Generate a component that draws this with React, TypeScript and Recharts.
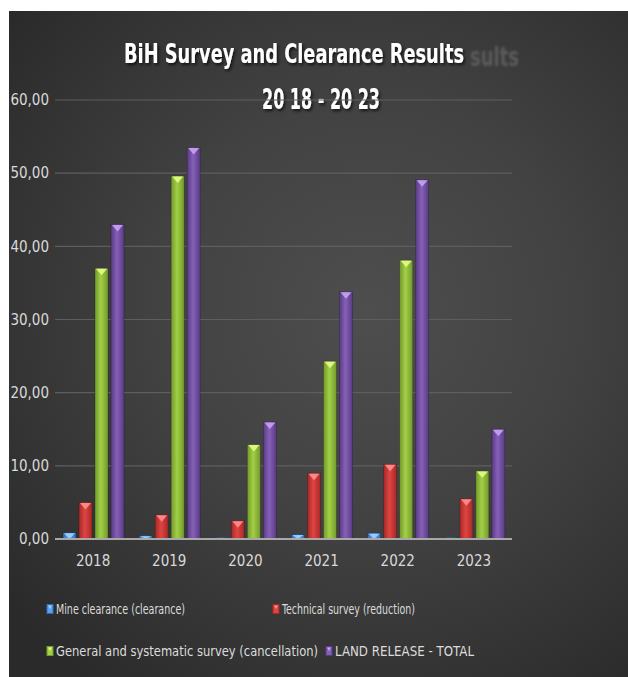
import React from 'react';
import { BarChart, Bar, XAxis, YAxis, CartesianGrid, Legend } from 'recharts';

const years = ['2018', '2019', '2020', '2021', '2022', '2023'];
const mineClearance = [0.85, 0.45, 0.2, 0.6, 0.8, 0.2];
const technicalSurvey = [5.0, 3.3, 2.5, 9.0, 10.2, 5.5];
const generalSurvey = [37.0, 49.6, 12.9, 24.3, 38.1, 9.3];
const landRelease = [43.0, 53.5, 16.0, 33.8, 49.1, 15.0];
const yTicks = [0, 10, 20, 30, 40, 50, 60];

const seriesNames = [
  'Mine clearance (clearance)',
  'Technical survey (reduction)',
  'General and systematic survey (cancellation)',
  'LAND RELEASE  - TOTAL',
];

const data = years.map((year, i) => ({
  year,
  mine: mineClearance[i],
  tech: technicalSurvey[i],
  general: generalSurvey[i],
  total: landRelease[i],
}));

const W = 619;
const H = 666;
const font = '"Liberation Sans Narrow", "DejaVu Sans Condensed", "Open Sans", sans-serif';

// edge, centre, top triangle
const palette = {
  mine: ['#2f6db8', '#5aa2ee', '#9fd0ff'],
  tech: ['#a82826', '#de4543', '#ff8f8f'],
  general: ['#739a2c', '#a2cf47', '#e4fb8a'],
  total: ['#5b3a86', '#8461b6', '#c9a2f2'],
};

const makeShape = (key: keyof typeof palette) => (props: any) => {
  const { x, y, width, height } = props;
  if (!height || height <= 0) return null;
  const tri = Math.min(7, height);
  return (
    <g>
      <rect x={x} y={y} width={width} height={height} fill={`url(#grad-${key})`} />
      <rect x={x} y={y} width={width} height={height} fill="none" stroke="rgba(0,0,0,0.25)" strokeWidth={0.8} />
      <polygon
        points={`${x + 1},${y + 0.5} ${x + width - 1},${y + 0.5} ${x + width / 2},${y + tri}`}
        fill={palette[key][2]}
        opacity={0.9}
      />
    </g>
  );
};

// legend layout: [x, y] of marker in chart coords, per series
const legendPos = [
  [38, 598],
  [264, 598],
  [38, 640],
  [317, 640],
];
const legendTextLen = [129, 133, 262, 139];
const legendKeys: (keyof typeof palette)[] = ['mine', 'tech', 'general', 'total'];

const renderLegend = (props: any) => {
  const payload = props.payload || [];
  return (
    <svg width={W} height={H} style={{ position: 'absolute', left: 0, top: 0, pointerEvents: 'none' }}>
      {payload.map((entry: any) => {
        const i = seriesNames.indexOf(entry.value);
        if (i < 0) return null;
        const [lx, ly] = legendPos[i];
        const key = legendKeys[i];
        return (
          <g key={entry.value}>
            <rect x={lx} y={ly - 4.5} width={6} height={9} fill={palette[key][1]} stroke={palette[key][0]} strokeWidth={1} />
            <polygon points={`${lx + 1},${ly - 3.5} ${lx + 5},${ly - 3.5} ${lx + 3},${ly}`} fill={palette[key][2]} />
            <text
              x={lx + 9}
              y={ly + 5}
              fill="#dcdcdc"
              fontSize={14.5}
              fontFamily={font}
              textLength={legendTextLen[i]}
              lengthAdjust="spacingAndGlyphs"
            >
              {entry.value}
            </text>
          </g>
        );
      })}
    </svg>
  );
};

const title1 = 'BiH Survey and Clearance Results';
const title2 = '20 18 - 20 23';
const ghostTail = 'sults';

export default function App() {
  return (
    <div style={{ position: 'absolute', left: 0, top: 0, width: 628, height: 677, background: '#ffffff' }}>
      <div
        style={{
          position: 'absolute',
          left: 9,
          top: 11,
          width: W,
          height: H,
          background:
            'radial-gradient(ellipse 75% 70% at 58% 45%, #4e4e4e 0%, #424242 45%, #333333 80%, #2a2a2a 100%)',
        }}
      >
        <svg width={W} height={120} style={{ position: 'absolute', left: 0, top: 0, pointerEvents: 'none' }}>
          <defs>
            <filter id="tshadow" x="-10%" y="-30%" width="120%" height="160%">
              <feDropShadow dx="1.5" dy="2" stdDeviation="1.5" floodColor="#000" floodOpacity="0.7" />
            </filter>
            <filter id="ghost">
              <feGaussianBlur stdDeviation="0.8" />
            </filter>
          </defs>
          <text
            x={461}
            y={55}
            fill="#5a5a5a"
            fontSize={27}
            fontWeight="bold"
            fontFamily={font}
            textLength={49}
            lengthAdjust="spacingAndGlyphs"
            filter="url(#ghost)"
          >
            {ghostTail}
          </text>
          <text
            x={115}
            y={52}
            fill="#ffffff"
            fontSize={27}
            fontWeight="bold"
            fontFamily={font}
            textLength={340}
            lengthAdjust="spacingAndGlyphs"
            filter="url(#tshadow)"
          >
            {title1}
          </text>
          <text
            x={253}
            y={98}
            fill="#ffffff"
            fontSize={28}
            fontWeight="bold"
            fontFamily={font}
            textLength={118}
            lengthAdjust="spacingAndGlyphs"
            filter="url(#tshadow)"
          >
            {title2}
          </text>
        </svg>
        <BarChart
          width={W}
          height={H}
          data={data}
          margin={{ top: 89, right: 116, left: 0, bottom: 107 }}
          barSize={13}
          barGap={3}
          style={{ position: 'absolute', left: 0, top: 0 }}
        >
          <defs>
            {legendKeys.map((k) => (
              <linearGradient key={k} id={`grad-${k}`} x1="0" y1="0" x2="1" y2="0">
                <stop offset="0%" stopColor={palette[k][0]} />
                <stop offset="45%" stopColor={palette[k][1]} />
                <stop offset="100%" stopColor={palette[k][0]} />
              </linearGradient>
            ))}
          </defs>
          <CartesianGrid vertical={false} stroke="#5e5e5e" strokeWidth={1.2} />
          <XAxis
            dataKey="year"
            axisLine={{ stroke: '#a8a8a8', strokeWidth: 2 }}
            tickLine={false}
            tickMargin={10}
            height={31}
            tick={{ fill: '#d9d9d9', fontSize: 15, fontFamily: font }}
          />
          <YAxis
            width={46}
            domain={[0, 60]}
            ticks={yTicks}
            axisLine={false}
            tickLine={false}
            tickMargin={0}
            tickFormatter={(v: number) => v.toFixed(2).replace('.', ',')}
            tick={{ fill: '#d9d9d9', fontSize: 15, fontFamily: font }}
          />
          <Legend
            layout="horizontal"
            verticalAlign="middle"
            align="center"
            wrapperStyle={{ position: 'absolute', left: 0, top: 0, width: W, height: H }}
            content={renderLegend}
          />
          <Bar dataKey="mine" name={seriesNames[0]} fill={palette.mine[1]} shape={makeShape('mine')} isAnimationActive={false} />
          <Bar dataKey="tech" name={seriesNames[1]} fill={palette.tech[1]} shape={makeShape('tech')} isAnimationActive={false} />
          <Bar dataKey="general" name={seriesNames[2]} fill={palette.general[1]} shape={makeShape('general')} isAnimationActive={false} />
          <Bar dataKey="total" name={seriesNames[3]} fill={palette.total[1]} shape={makeShape('total')} isAnimationActive={false} />
        </BarChart>
      </div>
    </div>
  );
}
